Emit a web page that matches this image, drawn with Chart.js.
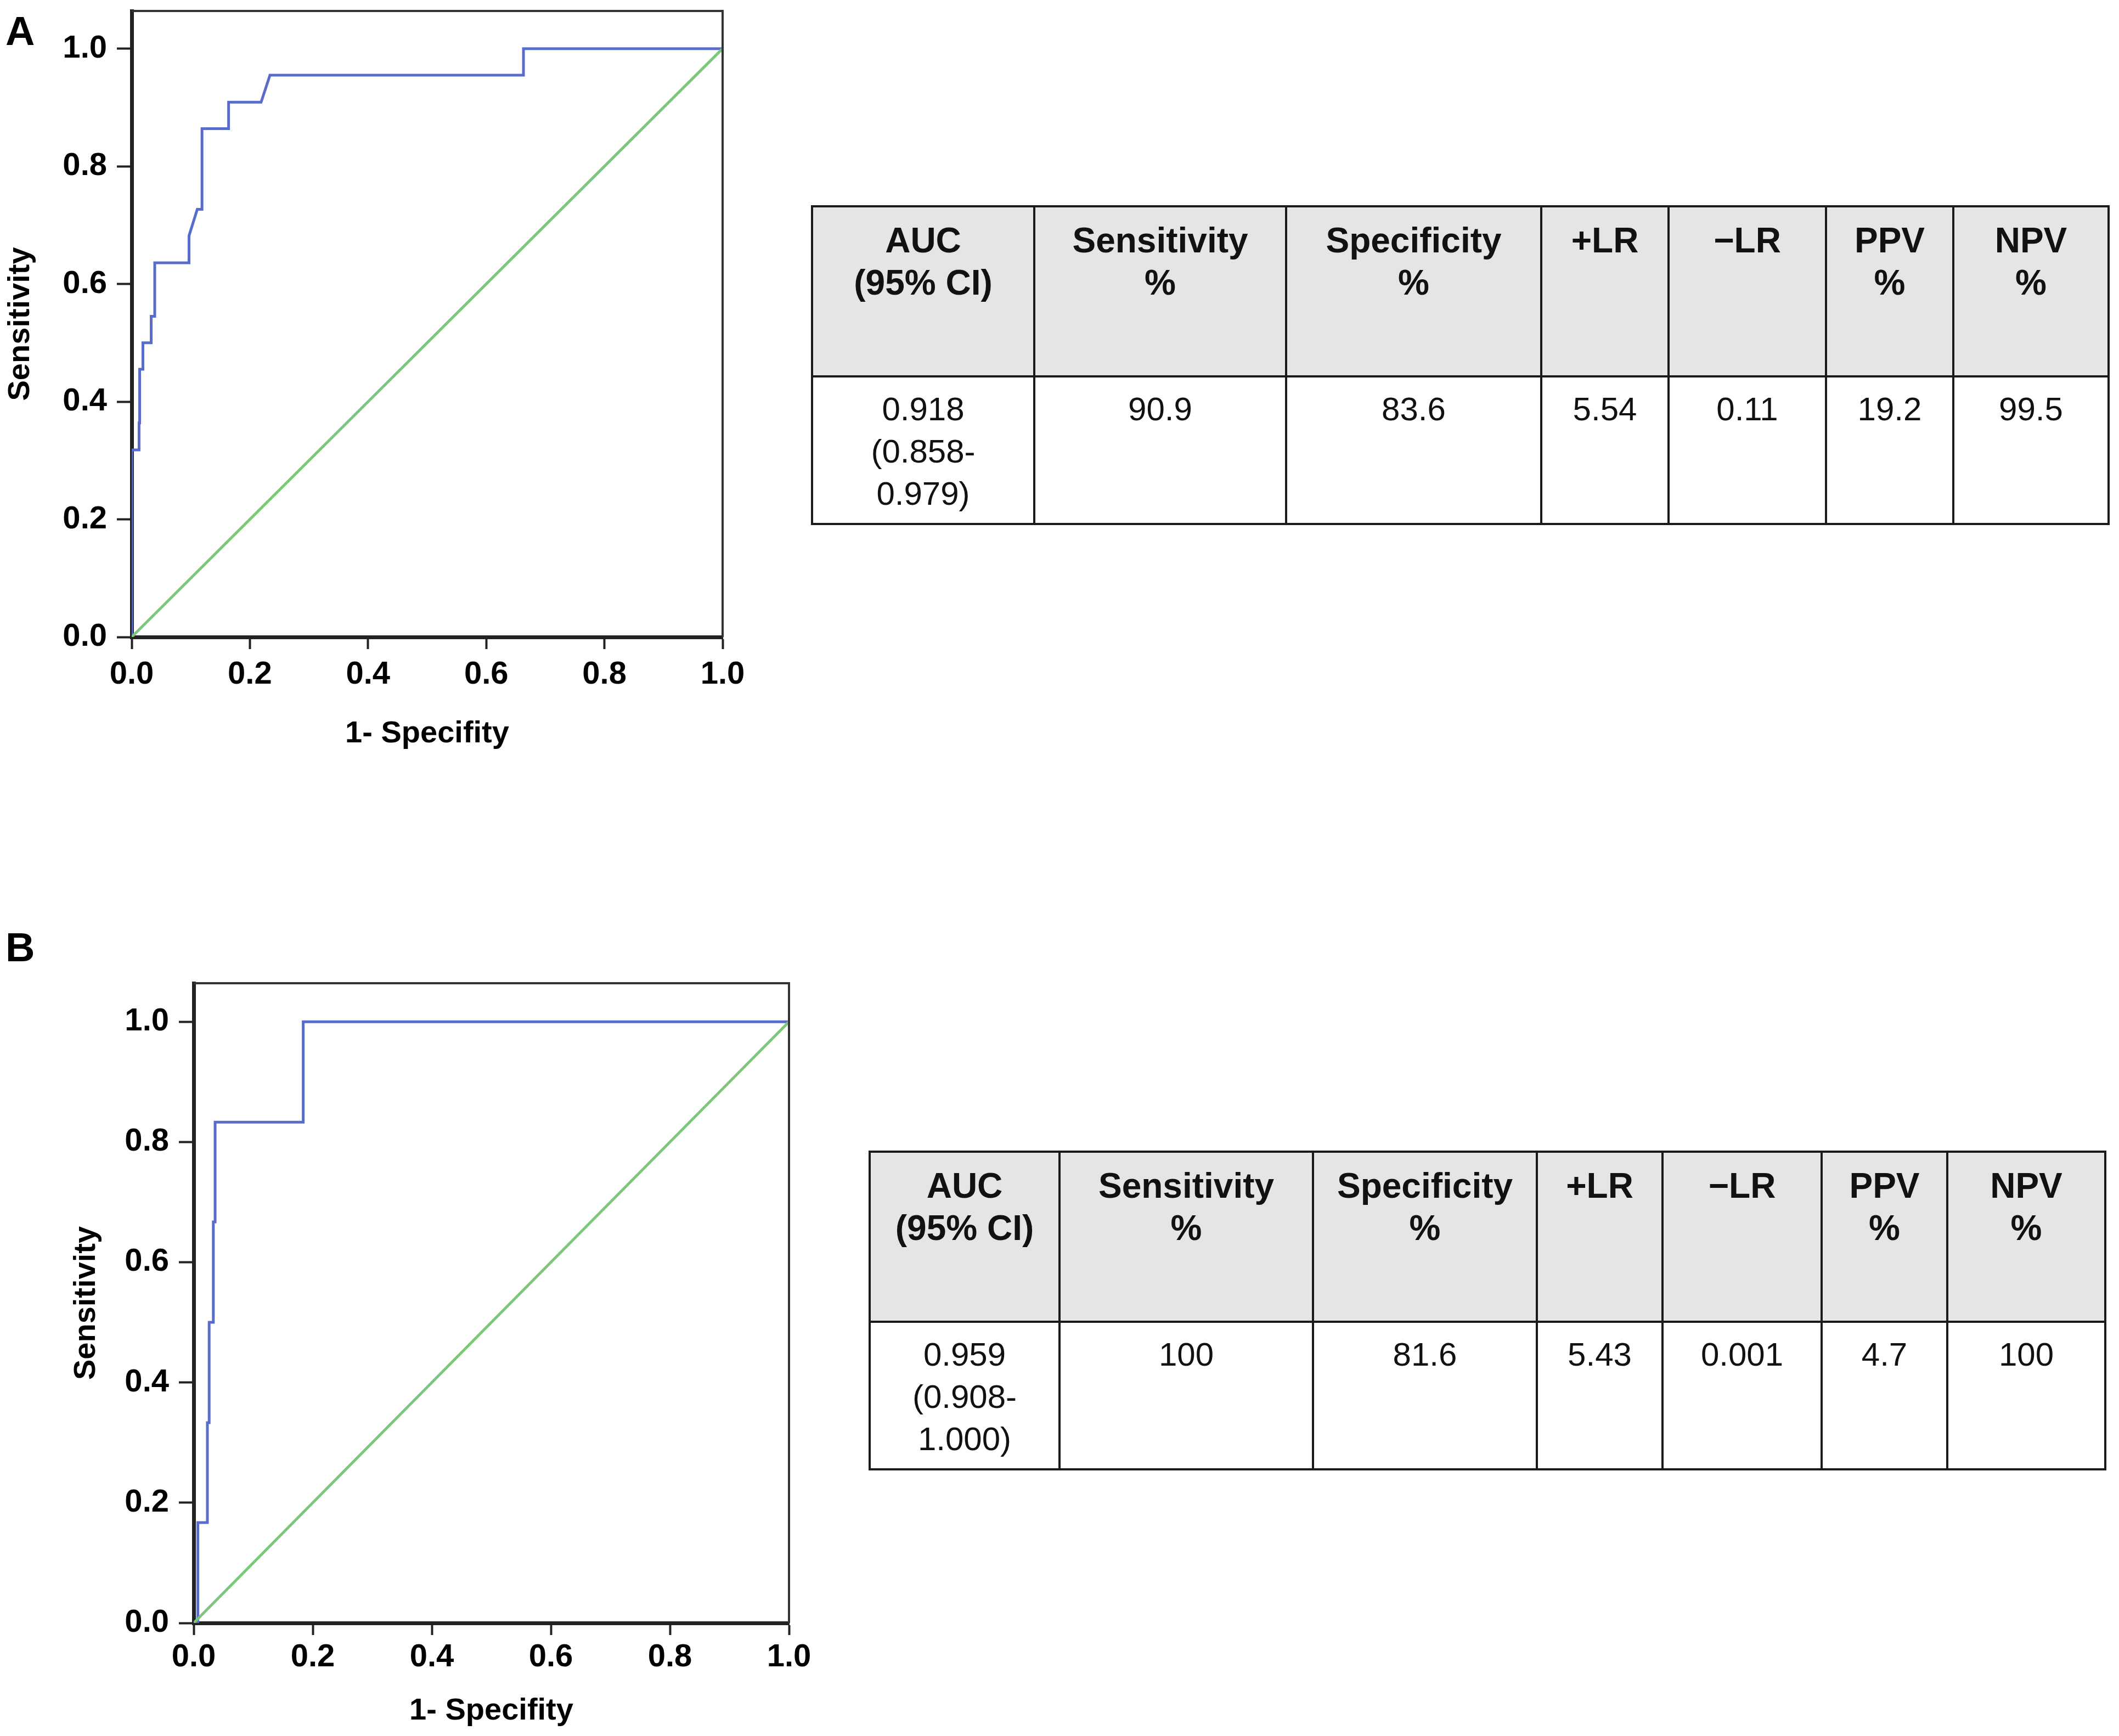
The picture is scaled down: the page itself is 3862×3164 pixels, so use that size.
<!DOCTYPE html>
<html>
<head>
<meta charset="utf-8">
<script src="https://cdn.jsdelivr.net/npm/chart.js@4.4.1/dist/chart.umd.min.js"></script>
<style>
  body { margin: 0; background: #fff; width: 3862px; height: 3164px; position: relative; overflow: hidden; }
  canvas { position: absolute; }
  .panel { position: absolute; font: bold 74px "Liberation Sans", Arial, sans-serif; color: #000; line-height: 1; }
  table { position: absolute; border-collapse: collapse; table-layout: fixed; font-family: "Liberation Sans", Arial, sans-serif; color: #111; }
  td { border: 4px solid #1a1a1a; text-align: center; vertical-align: top; line-height: 77px; padding: 0; }
  tr.head td { background: #e5e5e5; font-weight: bold; font-size: 64px; padding-top: 22px; height: 284px; }
  tr.vals td { font-size: 60px; padding-top: 19px; height: 246px; }
</style>
</head>
<body>
<div class="panel" style="left:10px;top:20px;">A</div>
<div class="panel" style="left:10px;top:1690px;">B</div>
<canvas id="rocA" width="1400" height="1400" style="left:0;top:0;"></canvas>
<canvas id="rocB" width="1520" height="1464" style="left:0;top:1700px;"></canvas>
<table id="tabA" style="left:1478px;top:374px;"></table>
<table id="tabB" style="left:1583px;top:2097px;"></table>
<script>
// ROC curve A (1 - specificity, sensitivity)
const fprA  = [0, 0, 0.0125, 0.0125, 0.0135, 0.0135, 0.019, 0.019, 0.033, 0.033, 0.039, 0.039, 0.097, 0.097, 0.111, 0.119, 0.119, 0.164, 0.164, 0.219, 0.234, 0.663, 0.663, 1.0];
const sensA = [0, 0.318, 0.318, 0.364, 0.364, 0.455, 0.455, 0.5, 0.5, 0.545, 0.545, 0.636, 0.636, 0.682, 0.727, 0.727, 0.864, 0.864, 0.909, 0.909, 0.955, 0.955, 1.0, 1.0];
// ROC curve B
const fprB  = [0, 0.007, 0.007, 0.023, 0.023, 0.026, 0.026, 0.033, 0.033, 0.036, 0.036, 0.184, 0.184, 1.0];
const sensB = [0, 0, 0.167, 0.167, 0.333, 0.333, 0.5, 0.5, 0.667, 0.667, 0.833, 0.833, 1.0, 1.0];
// reference diagonal
const diagX = [0, 1];
const diagY = [0, 1];

const tableHead = [['AUC', '(95% CI)'], ['Sensitivity', '%'], ['Specificity', '%'], ['+LR'], ['\u2212LR'], ['PPV', '%'], ['NPV', '%']];
const valsA = [['0.918', '(0.858-', '0.979)'], ['90.9'], ['83.6'], ['5.54'], ['0.11'], ['19.2'], ['99.5']];
const valsB = [['0.959', '(0.908-', '1.000)'], ['100'], ['81.6'], ['5.43'], ['0.001'], ['4.7'], ['100']];
const colsA = [405, 459, 465, 232, 287, 232, 283];
const colsB = [346, 462, 408, 229, 290, 229, 288];

function buildTable(id, widths, vals) {
  const t = document.getElementById(id);
  let html = '<colgroup>' + widths.map(w => `<col style="width:${w}px">`).join('') + '</colgroup>';
  html += '<tr class="head">' + tableHead.map(h => `<td>${h.join('<br>')}</td>`).join('') + '</tr>';
  html += '<tr class="vals">' + vals.map(v => `<td>${v.join('<br>')}</td>`).join('') + '</tr>';
  t.innerHTML = html;
  t.style.width = widths.reduce((a, b) => a + b, 0) + 'px';
}
buildTable('tabA', colsA, valsA);
buildTable('tabB', colsB, valsB);

const framePlugin = {
  id: 'frame',
  afterDatasetsDraw(chart) {
    const { ctx, chartArea: a } = chart;
    ctx.save();
    ctx.strokeStyle = '#333';
    ctx.lineWidth = 4;
    ctx.beginPath();
    ctx.moveTo(a.left, a.top);
    ctx.lineTo(a.right, a.top);
    ctx.lineTo(a.right, a.bottom);
    ctx.stroke();
    ctx.restore();
  }
};

const pts = (xs, ys) => xs.map((x, i) => ({ x: x, y: ys[i] }));
const tickFont = { family: '"Liberation Sans", Arial, sans-serif', weight: 'bold', size: 58 };
const titleFont = { family: '"Liberation Sans", Arial, sans-serif', weight: 'bold', size: 56 };

function rocChart(id, fpr, sens, opt) {
  return new Chart(document.getElementById(id), {
    type: 'scatter',
    data: {
      datasets: [
        { data: pts(diagX, diagY), showLine: true, borderColor: '#7cc77c', borderWidth: 5, pointRadius: 0 },
        { data: pts(fpr, sens), showLine: true, borderColor: '#5a6cc9', borderWidth: 5, pointRadius: 0 }
      ]
    },
    options: {
      responsive: false,
      animation: false,
      devicePixelRatio: 1,
      layout: { padding: { top: opt.padTop, right: opt.padRight, left: 0, bottom: 0 } },
      plugins: { legend: { display: false }, tooltip: { enabled: false } },
      scales: {
        x: {
          type: 'linear', min: 0, max: 1,
          afterFit: s => { s.height = opt.xHeight; s.paddingRight = 0; s.paddingLeft = 0; },
          border: { display: true, width: 7, color: '#222' },
          grid: { drawOnChartArea: false, drawTicks: true, tickLength: 22, tickWidth: 4, tickColor: '#222' },
          ticks: { stepSize: 0.2, padding: opt.xTickPad, color: '#000', font: tickFont, maxRotation: 0, callback: v => v.toFixed(1) },
          title: { display: true, text: '1- Specifity', color: '#000', font: titleFont, padding: { top: 0, bottom: opt.xTitlePad } }
        },
        y: {
          type: 'linear', min: 0, max: 1.064,
          afterFit: s => { s.width = opt.yWidth; s.paddingTop = 0; s.paddingBottom = 0; },
          afterBuildTicks: s => { s.ticks = s.ticks.filter(t => t.value <= 1.0001); },
          border: { display: true, width: 7, color: '#222' },
          grid: { drawOnChartArea: false, drawTicks: true, tickLength: 27, tickWidth: 4, tickColor: '#222' },
          ticks: { stepSize: 0.2, padding: 18, color: '#000', font: tickFont, callback: v => v.toFixed(1) },
          title: { display: true, text: 'Sensitivity', color: '#000', font: titleFont, padding: { top: opt.yTitlePad, bottom: 0 } }
        }
      }
    },
    plugins: [framePlugin]
  });
}

rocChart('rocA', fprA, sensA, { padTop: 20, padRight: 83, yWidth: 240, xHeight: 239, xTickPad: 12, xTitlePad: 29, yTitlePad: 4 });
rocChart('rocB', fprB, sensB, { padTop: 92, padRight: 82, yWidth: 353, xHeight: 206, xTickPad: 6, xTitlePad: 12, yTitlePad: 124 });
</script>
</body>
</html>
